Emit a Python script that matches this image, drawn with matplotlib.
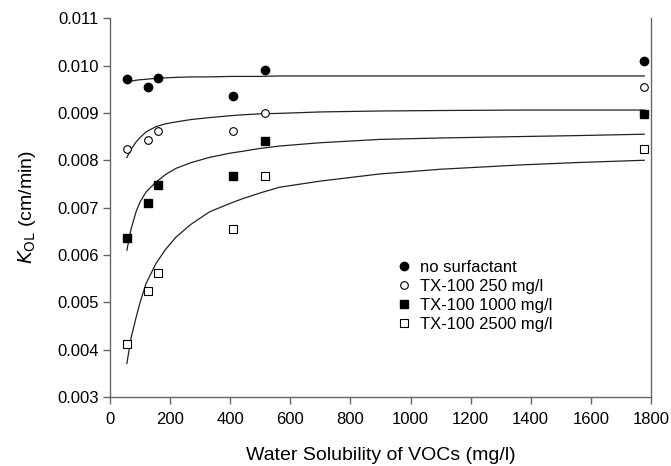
import numpy as np
import matplotlib
matplotlib.use("Agg")
import matplotlib.pyplot as plt

plt.rcParams['font.family'] = ['Liberation Sans', 'DejaVu Sans']

# water solubility of the VOCs (mg/l)
solubility = [56, 125, 161, 410, 516, 1778]

# measured K_OL (cm/min)
k_none = [0.00971, 0.00955, 0.00973, 0.00936, 0.00991, 0.01010]
k_250 = [0.00824, 0.00843, 0.00861, 0.00861, 0.00899, 0.00955]
k_1000 = [0.00636, 0.00710, 0.00747, 0.00767, 0.00841, 0.00897]
k_2500 = [0.00411, 0.00524, 0.00561, 0.00654, 0.00767, 0.00823]

# fitted curves
fit_x = [56, 70, 87, 100, 120, 153, 185, 220, 270, 331, 400, 442, 500, 564,
         700, 897, 1100, 1363, 1550, 1778]
fit_none = [0.00964, 0.00967, 0.00969, 0.00970, 0.00971, 0.00973, 0.00974, 0.00975, 0.00976, 0.00976,
            0.00977, 0.00977, 0.00977, 0.00978, 0.00978, 0.00978, 0.00978, 0.00978, 0.00978, 0.00978]
fit_250 = [0.00806, 0.00823, 0.00839, 0.00848, 0.00860, 0.00871, 0.00877, 0.00881, 0.00886, 0.00890,
           0.00894, 0.00896, 0.00898, 0.00899, 0.00902, 0.00904, 0.00905, 0.00906, 0.00906, 0.00906]
fit_1000 = [0.00610, 0.00655, 0.00692, 0.00712, 0.00733, 0.00754, 0.00770, 0.00783, 0.00795, 0.00806,
            0.00815, 0.00819, 0.00825, 0.00830, 0.00837, 0.00844, 0.00847, 0.00850, 0.00852, 0.00855]
fit_2500 = [0.00371, 0.00425, 0.00469, 0.00500, 0.00540, 0.00582, 0.00612, 0.00638, 0.00665, 0.00691,
            0.00709, 0.00719, 0.00731, 0.00743, 0.00756, 0.00771, 0.00781, 0.00790, 0.00795, 0.00800]

labels = ['no surfactant', 'TX-100 250 mg/l', 'TX-100 1000 mg/l', 'TX-100 2500 mg/l']

fig = plt.figure(figsize=(6.71, 4.66), dpi=100)
ax = fig.add_axes([0.164, 0.148, 0.806, 0.813])

for fy in [fit_none, fit_250, fit_1000, fit_2500]:
    ax.plot(fit_x, fy, color='#222222', lw=0.9, zorder=2)

ax.plot(solubility, k_none, 'o', ms=6, mfc='black', mec='black', ls='none', label=labels[0], zorder=3)
ax.plot(solubility, k_250, 'o', ms=5.5, mfc='white', mec='black', mew=0.8, ls='none', label=labels[1], zorder=3)
ax.plot(solubility, k_1000, 's', ms=6, mfc='black', mec='black', ls='none', label=labels[2], zorder=3)
ax.plot(solubility, k_2500, 's', ms=5.5, mfc='white', mec='black', mew=0.8, ls='none', label=labels[3], zorder=3)

ax.set_xlim(0, 1800)
ax.set_ylim(0.003, 0.011)
ax.set_xticks(np.arange(0, 1801, 200))
ax.set_yticks(np.arange(0.003, 0.01101, 0.001))
ax.set_yticklabels(['%.3f' % v for v in np.arange(0.003, 0.01101, 0.001)])

for s in ['left', 'bottom', 'right', 'top']:
    ax.spines[s].set_color('#666666')
    ax.spines[s].set_linewidth(1.0)
ax.spines['top'].set_visible(False)
ax.tick_params(direction='out', length=5, width=1.0, color='#666666', labelsize=12, pad=3)
ax.tick_params(axis='x', pad=6)

ax.set_xlabel('Water Solubility of VOCs (mg/l)', fontsize=14, labelpad=14)
ax.set_ylabel(r'$K_{\mathrm{OL}}$ (cm/min)', fontsize=14, labelpad=14)

ax.legend(loc='upper left', bbox_to_anchor=(0.515, 0.38), frameon=False, fontsize=12,
          handletextpad=0.5, labelspacing=0.25, handlelength=1.0, borderaxespad=0)

fig.savefig('out.png', dpi=100)
